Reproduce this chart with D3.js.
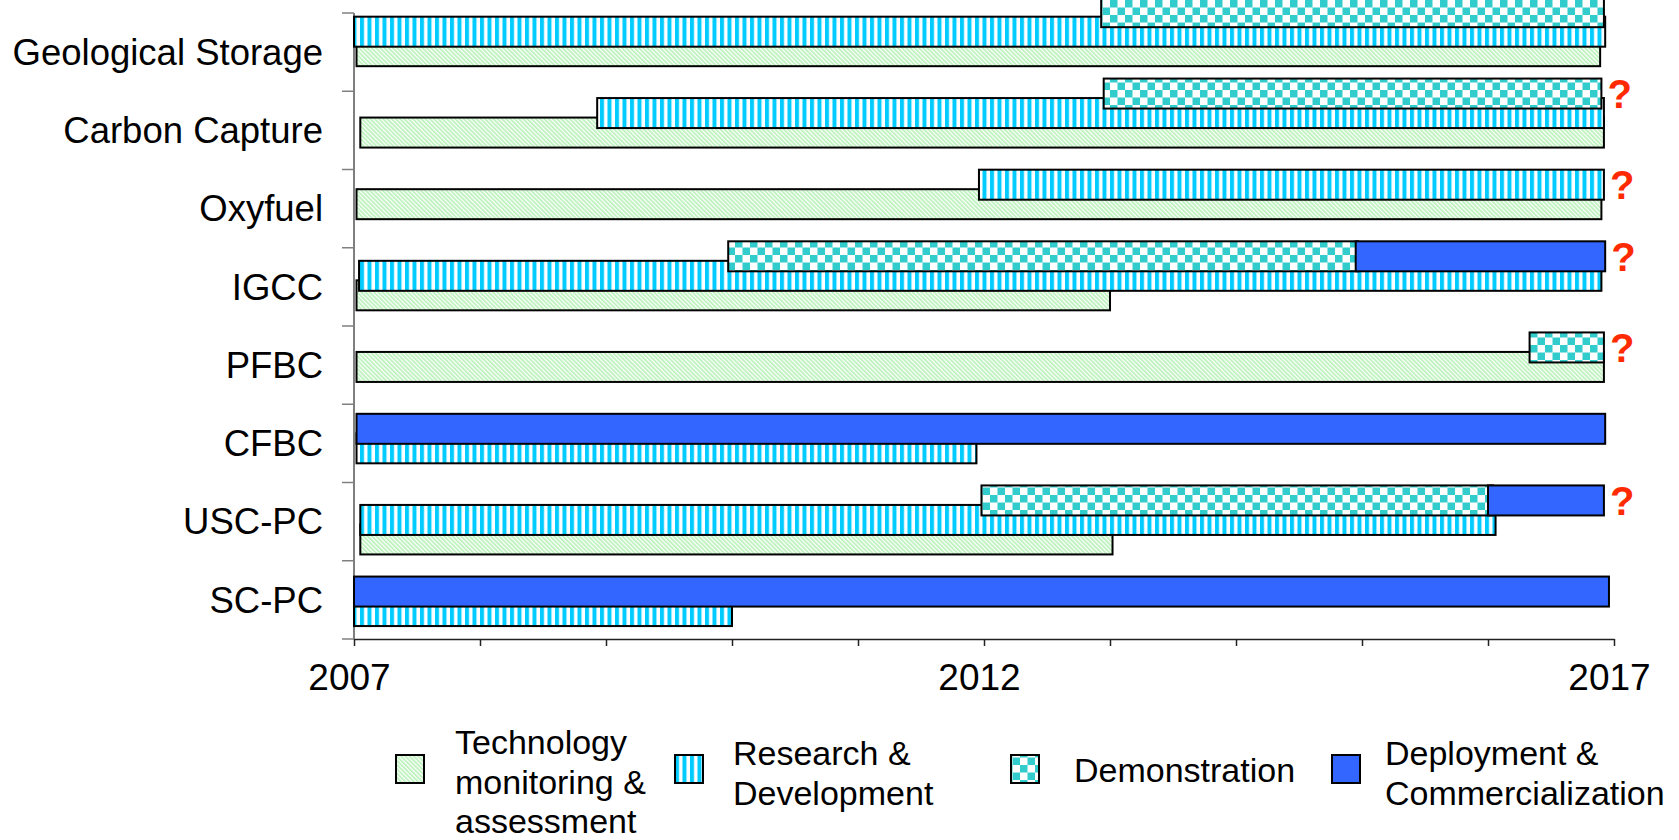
<!DOCTYPE html>
<html>
<head>
<meta charset="utf-8">
<script src="https://cdn.jsdelivr.net/npm/d3@7"></script>
<style>
  html, body { margin: 0; padding: 0; background: #fff; }
  svg { display: block; font-family: "Liberation Sans", Arial, Helvetica, sans-serif; }
</style>
</head>
<body>
<svg id="chart" width="1679" height="840"></svg>
<script>
// ---- Data -------------------------------------------------------------
const categories = ["Geological Storage", "Carbon Capture", "Oxyfuel", "IGCC", "PFBC", "CFBC", "USC-PC", "SC-PC"];
const phases = ["Technology monitoring & assessment", "Research & Development", "Demonstration", "Deployment & Commercialization"];
const legendLines = [["Technology", "monitoring &", "assessment"], ["Research &", "Development"], ["Demonstration"], ["Deployment &", "Commercialization"]];

// [technology, start year, end year]
const monitoringSpans = [
  ["Geological Storage", 2007.02, 2016.89],
  ["Carbon Capture", 2007.05, 2016.92],
  ["Oxyfuel", 2007.02, 2016.9],
  ["IGCC", 2007.02, 2013.0],
  ["PFBC", 2007.02, 2016.92],
  ["USC-PC", 2007.05, 2013.02]
];
const researchSpans = [
  ["Geological Storage", 2007.0, 2016.93],
  ["Carbon Capture", 2008.93, 2016.92],
  ["Oxyfuel", 2011.96, 2016.92],
  ["IGCC", 2007.04, 2016.9],
  ["CFBC", 2007.02, 2011.94],
  ["USC-PC", 2007.05, 2016.06],
  ["SC-PC", 2007.0, 2010.0]
];
const demonstrationSpans = [
  ["Geological Storage", 2012.93, 2016.92],
  ["Carbon Capture", 2012.95, 2016.9],
  ["IGCC", 2009.97, 2014.97],
  ["PFBC", 2016.33, 2016.92],
  ["USC-PC", 2011.98, 2016.04]
];
const deploymentSpans = [
  ["IGCC", 2014.95, 2016.93],
  ["CFBC", 2007.02, 2016.93],
  ["USC-PC", 2016.0, 2016.92],
  ["SC-PC", 2007.0, 2016.96]
];
// technologies whose outlook is still uncertain
const uncertainTechs = ["Carbon Capture", "Oxyfuel", "IGCC", "PFBC", "USC-PC"];

const yearTicks = [2007, 2008, 2009, 2010, 2011, 2012, 2013, 2014, 2015, 2016, 2017];
const yearLabels = [2007, 2012, 2017];

// ---- Layout -----------------------------------------------------------
const plot = { left: 354, right: 1614, top: 13, bottom: 639 };
const barH = 30, laneStep = 19.5;
const fills = ["url(#pat-monitor)", "url(#pat-research)", "url(#pat-demo)", "#3366ff"];
const legendLayout = [
  { sx: 396, tx: 455, cy: 782 },
  { sx: 675, tx: 733, cy: 773 },
  { sx: 1011, tx: 1074, cy: 770 },
  { sx: 1332, tx: 1385, cy: 773 }
];

const svg = d3.select("#chart");

const x = d3.scaleLinear().domain([2007, 2017]).range([plot.left, plot.right]);
const yAxisBand = d3.scaleBand().domain(categories).range([plot.top, plot.bottom]);
const rowBand = d3.scaleBand().domain(categories).range([-9, 642]);

// ---- Patterns ---------------------------------------------------------
const defs = svg.append("defs");

const pm = defs.append("pattern").attr("id", "pat-monitor")
  .attr("patternUnits", "userSpaceOnUse").attr("width", 3).attr("height", 3)
  .attr("patternTransform", "rotate(-45)");
pm.append("rect").attr("width", 3).attr("height", 3).attr("fill", "#fff");
pm.append("rect").attr("width", 1.7).attr("height", 3).attr("fill", "#b9f2b9");

const pr = defs.append("pattern").attr("id", "pat-research")
  .attr("patternUnits", "userSpaceOnUse").attr("width", 7.5).attr("height", 10);
pr.append("rect").attr("width", 7.5).attr("height", 10).attr("fill", "#fff");
pr.append("rect").attr("width", 4).attr("height", 10).attr("fill", "#00ccff");

const pd = defs.append("pattern").attr("id", "pat-demo")
  .attr("patternUnits", "userSpaceOnUse").attr("width", 15).attr("height", 15);
pd.append("rect").attr("width", 15).attr("height", 15).attr("fill", "#fff");
pd.append("rect").attr("width", 7.5).attr("height", 7.5).attr("fill", "#33cccc");
pd.append("rect").attr("x", 7.5).attr("y", 7.5).attr("width", 7.5).attr("height", 7.5).attr("fill", "#33cccc");

// ---- Bars: sequential phases share a row, overlapping ones stack upward --
const spansByPhase = [monitoringSpans, researchSpans, demonstrationSpans, deploymentSpans];
const bars = [];
const rowCount = {};
categories.forEach(cat => {
  const rowEnds = [];
  spansByPhase.forEach((spans, p) => {
    spans.filter(s => s[0] === cat).forEach(([, start, end]) => {
      let row = rowEnds.length - 1;
      if (row < 0 || start < rowEnds[row] - 0.1) {
        rowEnds.push(end);
        row = rowEnds.length - 1;
      } else {
        rowEnds[row] = end;
      }
      bars.push({ cat, phase: p, start, end, row });
    });
  });
  rowCount[cat] = rowEnds.length;
});

const laneCenter = (cat, row) =>
  rowBand(cat) + rowBand.bandwidth() / 2 + ((rowCount[cat] - 1) / 2 - row) * laneStep;

// ---- Axes -------------------------------------------------------------
// category axis: labels centred in each band, ticks on band boundaries
const yAxisG = svg.append("g");
yAxisG.append("line")
  .attr("x1", plot.left).attr("x2", plot.left)
  .attr("y1", plot.top).attr("y2", plot.bottom)
  .attr("stroke", "#555").attr("stroke-width", 1.5);
const edges = categories.map(c => yAxisBand(c)).concat([plot.bottom]);
yAxisG.selectAll("line.tick").data(edges).join("line")
  .attr("class", "tick")
  .attr("x1", plot.left - 12).attr("x2", plot.left)
  .attr("y1", d => d).attr("y2", d => d)
  .attr("stroke", "#808080").attr("stroke-width", 1.5);
yAxisG.selectAll("text").data(categories).join("text")
  .attr("x", 323)
  .attr("y", d => yAxisBand(d) + yAxisBand.bandwidth() / 2)
  .attr("dy", "0.35em")
  .attr("text-anchor", "end")
  .attr("font-size", 36.5)
  .attr("fill", "#000")
  .text(d => d);

const xAxis = d3.axisBottom(x)
  .tickValues(yearTicks)
  .tickFormat(d => yearLabels.includes(d) ? String(d) : "")
  .tickSize(7)
  .tickSizeOuter(0)
  .tickPadding(18);
const xAxisG = svg.append("g").attr("transform", `translate(0,${plot.bottom})`).call(xAxis);
xAxisG.select(".domain").attr("stroke", "#222").attr("stroke-width", 1.5);
xAxisG.selectAll(".tick line").attr("stroke", "#222").attr("stroke-width", 1.5);
xAxisG.selectAll(".tick text")
  .attr("font-size", 37)
  .attr("dx", -5)
  .attr("font-family", "\"Liberation Sans\", Arial, sans-serif")
  .attr("fill", "#000");

// ---- Bars -------------------------------------------------------------
svg.append("g").selectAll("rect").data(bars).join("rect")
  .attr("x", d => x(d.start))
  .attr("width", d => x(d.end) - x(d.start))
  .attr("y", d => laneCenter(d.cat, d.row) - barH / 2)
  .attr("height", barH)
  .attr("fill", d => fills[d.phase])
  .attr("stroke", "#000")
  .attr("stroke-width", 2);

// ---- Question marks after uncertain technologies -----------------------
const qSize = 40;
const marks = uncertainTechs.map(cat => {
  const top = rowCount[cat] - 1;
  const topBars = bars.filter(b => b.cat === cat && b.row === top);
  return { cat, end: d3.max(topBars, b => b.end), cy: laneCenter(cat, top) };
});
svg.append("g").selectAll("text").data(marks).join("text")
  .attr("x", d => x(d.end) + 6)
  .attr("y", d => d.cy + qSize * 0.36)
  .attr("font-size", qSize)
  .attr("font-weight", "bold")
  .attr("fill", "#ff2a00")
  .text("?");

// ---- Legend -----------------------------------------------------------
const lineH = 39.5, legendFont = 34, sw = 28;
const leg = svg.append("g").selectAll("g").data(phases).join("g");
leg.append("rect")
  .attr("x", (d, i) => legendLayout[i].sx)
  .attr("y", 769 - sw / 2)
  .attr("width", sw).attr("height", sw)
  .attr("fill", (d, i) => fills[i])
  .attr("stroke", "#000").attr("stroke-width", 2);
leg.each(function (d, i) {
  const lines = legendLines[i];
  const L = legendLayout[i];
  const first = L.cy - (lines.length - 1) / 2 * lineH;
  d3.select(this).selectAll("text").data(lines).join("text")
    .attr("x", L.tx)
    .attr("y", (t, j) => first + j * lineH)
    .attr("dy", "0.35em")
    .attr("font-size", legendFont)
    .attr("fill", "#000")
    .text(t => t);
});
</script>
</body>
</html>
